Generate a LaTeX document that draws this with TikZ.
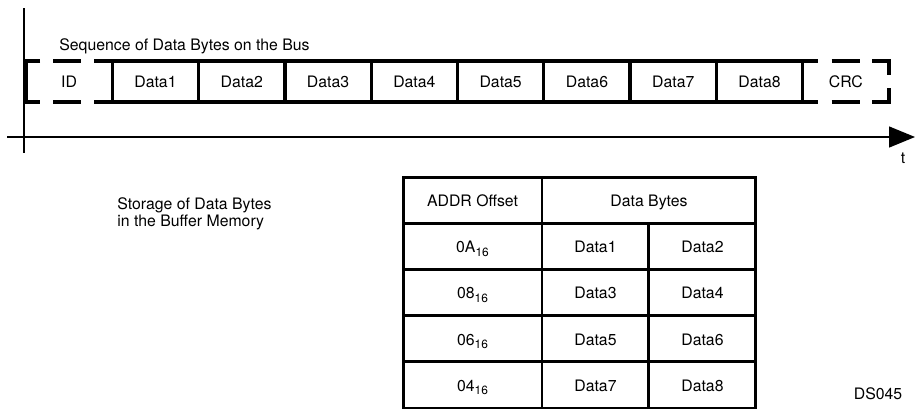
\documentclass[tikz,border=0pt]{standalone}
\usepackage{fontspec}
\setmainfont{TeX Gyre Heros}
\usepackage{tikz}
\usetikzlibrary{arrows.meta,positioning}
\newcommand{\hexsub}[1]{\raisebox{-0.45ex}{\fontsize{6.8}{8}\selectfont #1}}
\tikzset{
  busslot/.style={minimum width=1.726cm, minimum height=0.82cm, inner sep=0pt, outer sep=0pt},
  busbox/.style={busslot, draw, line width=1.9pt},
  busline/.style={line width=1.9pt},
  cell/.style={draw, line width=1.7pt, minimum height=0.924cm, inner sep=0pt, outer sep=0pt, text height=0.72em, text depth=0pt},
  axis/.style={line width=0.8pt},
  lbl/.style={inner sep=0pt}
}

\begin{document}
\begin{tikzpicture}[x=0.02cm, y=-0.02cm, font=\fontsize{9}{11}\selectfont]
        \useasboundingbox (0,0) rectangle (915,413);
        % Time axis
        \coordinate (ytop) at (24,8);
        \coordinate (ybot) at (24,153);
        \coordinate (tstart) at (7,137);
        \coordinate (tend) at (915,137);
        \draw[axis] (ytop) -- (ybot);
        \draw[axis, -{Triangle[length=0.52cm, width=0.42cm]}] (tstart) -- (tend);
        \node[lbl, anchor=base] (tlab) at (903,163) {t};
        % Bytes on the bus
        \node[lbl, anchor=base west] (seq) at (59,50) {Sequence of Data Bytes on the Bus};
        \node[busslot] (id) at (69.15,81.5) {ID};
        \foreach \i in {1,...,8}
          \node[busbox] (d\i) at ({26+86.3*(\i+0.5)},81.5) {Data\i};
        \node[busslot] (crc) at ({26+86.3*9.5},81.5) {CRC};
        % ID frame (dashed)
        \draw[busline] (id.north west) ++(14,0) -- (id.north west) -- (id.south west) -- ++(14,0);
        \draw[busline] (id.north west) ++(27,0) -- ++(28,0);
        \draw[busline] (id.south west) ++(27,0) -- ++(28,0);
        \draw[busline] (id.north east) -- ++(-18,0);
        \draw[busline] (id.south east) -- ++(-18,0);
        % CRC frame (dashed)
        \draw[busline] (crc.north west) -- ++(15,0);
        \draw[busline] (crc.south west) -- ++(15,0);
        \draw[busline] (crc.north west) ++(29,0) -- ++(28,0);
        \draw[busline] (crc.south west) ++(29,0) -- ++(28,0);
        \draw[busline] (crc.north east) ++(-17,0) -- (crc.north east) -- ++(0,14);
        \draw[busline] (crc.south east) ++(-17,0) -- (crc.south east) -- ++(0,-14);
        % Buffer memory
        \node[lbl, anchor=base west, align=left, font=\fontsize{9}{8.2}\selectfont] (store) at (117,226) {Storage of Data Bytes\\in the Buffer Memory};
        \node[cell, minimum width=2.78cm] (addr) at (472.5,200.1) {ADDR Offset};
        \node[cell, minimum width=4.28cm, right=0pt of addr] (bytes) {Data Bytes};
        \foreach \r/\off/\a/\b in {1/0A/1/2,2/08/3/4,3/06/5/6,4/04/7/8} {
          \node[cell, minimum width=2.78cm] (off\r) at (472.5,{177+46.2*(\r+0.5)}) {\off\hexsub{16}};
          \node[cell, minimum width=2.14cm, right=0pt of off\r] (lo\r) {Data\a};
          \node[cell, minimum width=2.14cm, right=0pt of lo\r] (hi\r) {Data\b};
        }
        \node[lbl, anchor=base] (ds) at (878,399) {DS045};
      \end{tikzpicture}
\end{document}
